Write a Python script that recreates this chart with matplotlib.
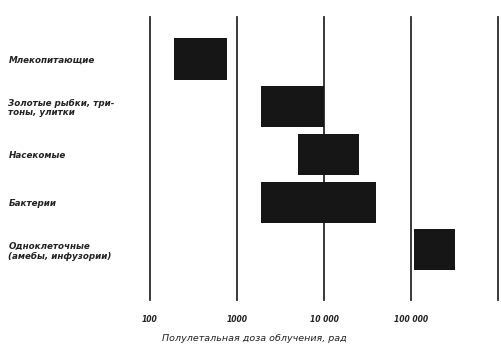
import matplotlib.pyplot as plt
import matplotlib.ticker as mticker

# лучевая чувствительность, рад
groups = ["Млекопитающие", "Золотые рыбки, три-\nтоны, улитки", "Насекомые",
          "Бактерии", "Одноклеточные\n(амебы, инфузории)"]
dose_low = [190, 1900, 5000, 1900, 108000]
dose_high = [760, 10000, 25000, 40000, 320000]
ticks = [100, 1000, 10000, 100000, 1000000]
tick_labels = ["100", "1000", "10 000", "100 000", ""]

plt.rcParams['font.family'] = ['DejaVu Sans']

fig = plt.figure(figsize=(5.02, 3.44), dpi=100)
ax = fig.add_axes([150 / 502, 1 - 300 / 344, 348 / 502, 283 / 344])

y = list(range(len(groups)))
widths = [h - l for l, h in zip(dose_low, dose_high)]
ax.barh(y, widths, left=dose_low, height=0.86, color="#161616", zorder=3)

ax.set_xscale("log")
ax.set_xlim(100, 1000000)
ax.set_ylim(5.05, -0.88)
for t in ticks:
    ax.axvline(t, color="#2a2a2a", lw=1.3, zorder=2, clip_on=False)

ax.xaxis.set_major_locator(mticker.FixedLocator(ticks))
ax.xaxis.set_minor_locator(mticker.NullLocator())
ax.set_xticklabels(tick_labels, fontsize=5.5, style="italic", weight="bold", color="#222")
ax.tick_params(axis="x", length=0, pad=11)

ax.set_yticks(y)
ax.set_yticklabels(groups, fontsize=6.3, style="italic", weight="bold", color="#222",
                   linespacing=1.1)
ax.tick_params(axis="y", length=0, pad=102)
for lab in ax.get_yticklabels():
    lab.set_ha("left")

ax.set_xlabel("Полулетальная доза облучения, рад", fontsize=6.8, style="italic",
              color="#222", labelpad=1)
ax.xaxis.set_label_coords(0.30, -0.12)

for s in ax.spines.values():
    s.set_visible(False)

fig.savefig("out.png", dpi=100)
